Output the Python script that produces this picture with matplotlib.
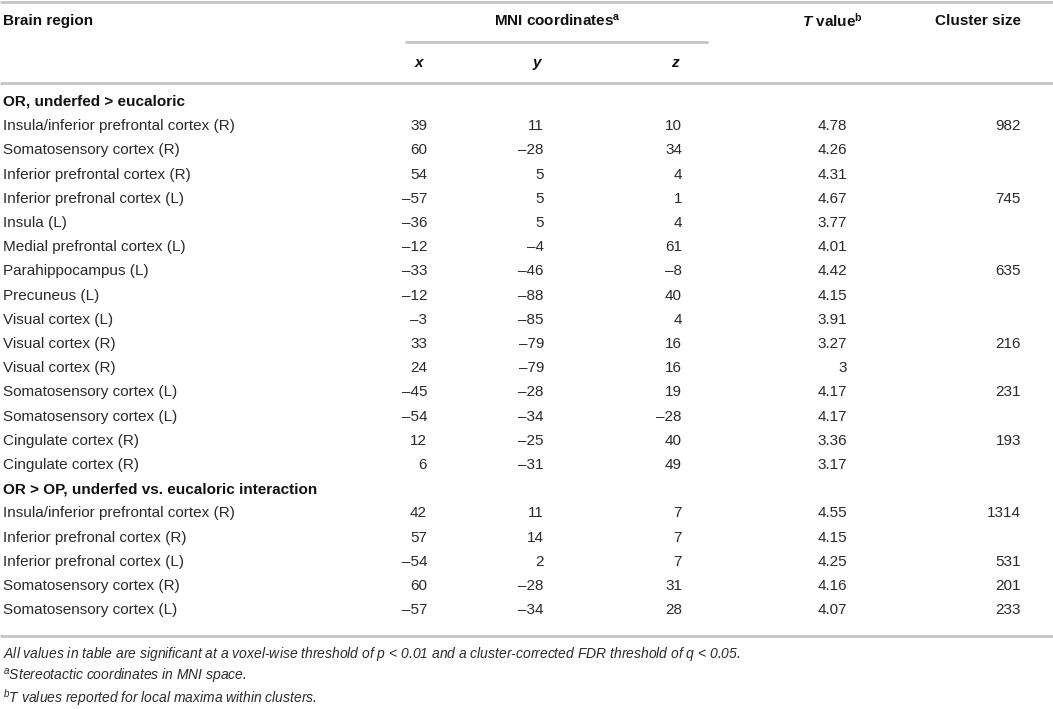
import matplotlib
matplotlib.use("Agg")
import matplotlib.pyplot as plt

# Table contents
regions_a = ["Insula/inferior prefrontal cortex (R)", "Somatosensory cortex (R)",
             "Inferior prefrontal cortex (R)", "Inferior prefronal cortex (L)",
             "Insula (L)", "Medial prefrontal cortex (L)", "Parahippocampus (L)",
             "Precuneus (L)", "Visual cortex (L)", "Visual cortex (R)",
             "Visual cortex (R)", "Somatosensory cortex (L)",
             "Somatosensory cortex (L)", "Cingulate cortex (R)",
             "Cingulate cortex (R)"]
x_a = [39, 60, 54, -57, -36, -12, -33, -12, -3, 33, 24, -45, -54, 12, 6]
y_a = [11, -28, 5, 5, 5, -4, -46, -88, -85, -79, -79, -28, -34, -25, -31]
z_a = [10, 34, 4, 1, 4, 61, -8, 40, 4, 16, 16, 19, -28, 40, 49]
t_a = [4.78, 4.26, 4.31, 4.67, 3.77, 4.01, 4.42, 4.15, 3.91, 3.27, 3, 4.17, 4.17, 3.36, 3.17]
cl_a = [982, None, None, 745, None, None, 635, None, None, 216, None, 231, None, 193, None]

regions_b = ["Insula/inferior prefrontal cortex (R)", "Inferior prefronal cortex (R)",
             "Inferior prefronal cortex (L)", "Somatosensory cortex (R)",
             "Somatosensory cortex (L)"]
x_b = [42, 57, -54, 60, -57]
y_b = [11, 14, 2, -28, -34]
z_b = [7, 7, 7, 31, 28]
t_b = [4.55, 4.15, 4.25, 4.16, 4.07]
cl_b = [1314, None, 531, 201, 233]

section_a = "OR, underfed > eucaloric"
section_b = "OR > OP, underfed vs. eucaloric interaction"

notes = [r"All values in table are significant at a voxel-wise threshold of $p$ < 0.01 "
         r"and a cluster-corrected FDR threshold of $q$ < 0.05.",
         r"${}^{a}$Stereotactic coordinates in MNI space.",
         r"${}^{b}$T values reported for local maxima within clusters."]

plt.rcParams['font.family'] = ['Liberation Sans', 'DejaVu Sans']
plt.rcParams['mathtext.fontset'] = 'custom'
plt.rcParams['mathtext.rm'] = 'Liberation Sans'
plt.rcParams['mathtext.it'] = 'Liberation Sans:italic'
plt.rcParams['mathtext.bf'] = 'Liberation Sans:bold'
plt.rcParams['mathtext.bfit'] = 'Liberation Sans:italic:bold'

W, H = 1053, 709
fig = plt.figure(figsize=(W / 100, H / 100), dpi=100)
ax = fig.add_axes([0, 0, 1, 1])
ax.set_xlim(0, W)
ax.set_ylim(H, 0)
ax.axis('off')

ink = '#111111'
body = '#2a2a2a'
rule = '#c4c4c4'
fs = 11

# column right edges
col_x = [427, 544, 682, 847, 1021]


def num(v):
    if v is None:
        return ""
    return f"{v:g}".replace("-", "\u2013")


# rules
for yy in [2, 83, 636]:
    ax.plot([0, W], [yy, yy], color=rule, lw=2, solid_capstyle='butt')
ax.plot([405, 708], [42, 42], color=rule, lw=2, solid_capstyle='butt')

# header
ax.text(3, 21, "Brain region", fontsize=fs, fontweight='bold', color=ink, va='center')
ax.text(557, 21, r"MNI coordinates$^{\mathbf{a}}$", fontsize=fs, fontweight='bold',
        color=ink, va='center', ha='center')
ax.text(832, 21, r"$\mathbfit{T}$ value$^{\mathbf{b}}$", fontsize=fs, fontweight='bold',
        color=ink, va='center', ha='center')
ax.text(1021, 21, "Cluster size", fontsize=fs, fontweight='bold', color=ink,
        va='center', ha='right')
for lab, cx in zip(["x", "y", "z"], [419, 537, 675]):
    ax.text(cx, 63, lab, fontsize=fs, fontweight='bold', style='italic', color=ink,
            va='center', ha='center')

step = 24.2
y0 = 102


def draw_block(top, title, regions, xs, ys, zs, ts, cls):
    ax.text(3, top, title, fontsize=fs, fontweight='bold', color=ink, va='center')
    for i, name in enumerate(regions):
        yy = top + step * (i + 1)
        ax.text(3, yy, name, fontsize=fs, color=body, va='center')
        vals = [xs[i], ys[i], zs[i], ts[i], cls[i]]
        for v, cx in zip(vals, col_x):
            ax.text(cx, yy, num(v), fontsize=fs, color=body, va='center', ha='right')
    return top + step * (len(regions) + 1)


nxt = draw_block(y0, section_a, regions_a, x_a, y_a, z_a, t_a, cl_a)
draw_block(nxt, section_b, regions_b, x_b, y_b, z_b, t_b, cl_b)

# footnotes
for i, note in enumerate(notes):
    ax.text(3, 654 + 22 * i, note, fontsize=10, style='italic', color=body, va='center')

fig.savefig("out.png", dpi=100, facecolor='white')
